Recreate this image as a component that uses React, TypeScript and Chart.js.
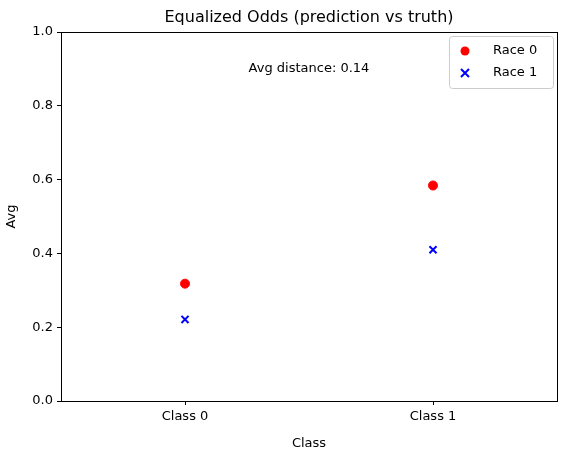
import { useEffect, useRef } from 'react';
import { Chart, registerables } from 'chart.js';

Chart.register(...registerables);

const classes = ['Class 0', 'Class 1'];
const race0 = [0.318, 0.584];
const race1 = [0.221, 0.41];
const yTicks = [0, 0.2, 0.4, 0.6, 0.8, 1.0];
const note = 'Avg distance: 0.14';
const FONT = '"DejaVu Sans", sans-serif';

const frame = {
  id: 'frame',
  afterDraw(chart: any) {
    const { ctx, chartArea: a } = chart;
    ctx.save();
    ctx.strokeStyle = '#000';
    ctx.lineWidth = 1;
    ctx.strokeRect(a.left + 0.5, a.top + 0.5, a.right - a.left, a.bottom - a.top);
    ctx.fillStyle = '#000';
    ctx.font = `16px ${FONT}`;
    ctx.textAlign = 'center';
    ctx.textBaseline = 'bottom';
    ctx.fillText('Equalized Odds (prediction vs truth)', (a.left + a.right) / 2, a.top - 6);
    ctx.font = `13px ${FONT}`;
    ctx.textBaseline = 'middle';
    ctx.fillText(note, 309, 69);
    // legend
    const w = 104, h = 52, x = a.right - w - 4, y = a.top + 4;
    ctx.fillStyle = 'rgba(255,255,255,0.8)';
    ctx.strokeStyle = '#ccc';
    ctx.beginPath();
    ctx.roundRect(x + 0.5, y + 0.5, w, h, 3);
    ctx.fill();
    ctx.stroke();
    ctx.fillStyle = 'red';
    ctx.beginPath();
    ctx.arc(x + 16, y + 15, 4.5, 0, Math.PI * 2);
    ctx.fill();
    ctx.strokeStyle = 'blue';
    ctx.lineWidth = 2;
    ctx.beginPath();
    ctx.moveTo(x + 12, y + 33); ctx.lineTo(x + 20, y + 41);
    ctx.moveTo(x + 20, y + 33); ctx.lineTo(x + 12, y + 41);
    ctx.stroke();
    ctx.fillStyle = '#000';
    ctx.textAlign = 'left';
    ctx.fillText('Race 0', x + 44, y + 15);
    ctx.fillText('Race 1', x + 44, y + 37);
    ctx.restore();
  },
};

export default function App() {
  const ref = useRef<HTMLCanvasElement>(null);
  useEffect(() => {
    document.body.style.margin = '0';
    if (!ref.current) return;
    const chart = new Chart(ref.current, {
      type: 'scatter',
      data: {
        datasets: [
          {
            label: 'Race 0',
            data: race0.map((v, i) => ({ x: i, y: v })),
            backgroundColor: 'red',
            borderColor: 'red',
            pointStyle: 'circle',
            pointRadius: 4.5,
          },
          {
            label: 'Race 1',
            data: race1.map((v, i) => ({ x: i, y: v })),
            borderColor: 'blue',
            backgroundColor: 'blue',
            pointStyle: 'crossRot',
            pointRadius: 5,
            borderWidth: 2,
          },
        ],
      },
      options: {
        animation: false,
        responsive: false,
        layout: { padding: { left: 0, top: 32, right: 10, bottom: 0 } },
        plugins: { legend: { display: false }, title: { display: false }, tooltip: { enabled: false } },
        scales: {
          x: {
            type: 'linear',
            min: -0.5,
            max: 1.5,
            afterBuildTicks: (s: any) => { s.ticks = classes.map((_, i) => ({ value: i })); },
            afterFit: (s: any) => { s.height = 54; },
            ticks: { callback: (v: any) => classes[v] ?? '', color: '#000', font: { family: FONT, size: 13 }, padding: 4, maxRotation: 0 },
            grid: { drawOnChartArea: false, tickLength: 4, color: '#000' },
            border: { color: '#000' },
            title: { display: true, text: 'Class', color: '#000', font: { family: FONT, size: 13 }, padding: { top: 4 } },
          },
          y: {
            min: 0,
            max: 1,
            afterBuildTicks: (s: any) => { s.ticks = yTicks.map((v) => ({ value: v })); },
            afterFit: (s: any) => { s.width = 61; },
            ticks: { callback: (v: any) => Number(v).toFixed(1), color: '#000', font: { family: FONT, size: 13 }, padding: 4 },
            grid: { drawOnChartArea: false, tickLength: 4, color: '#000' },
            border: { color: '#000' },
            title: { display: true, text: 'Avg', color: '#000', font: { family: FONT, size: 13 }, padding: { bottom: 4 } },
          },
        },
      },
      plugins: [frame],
    });
    return () => chart.destroy();
  }, []);
  return <canvas ref={ref} width={567} height={455} />;
}
